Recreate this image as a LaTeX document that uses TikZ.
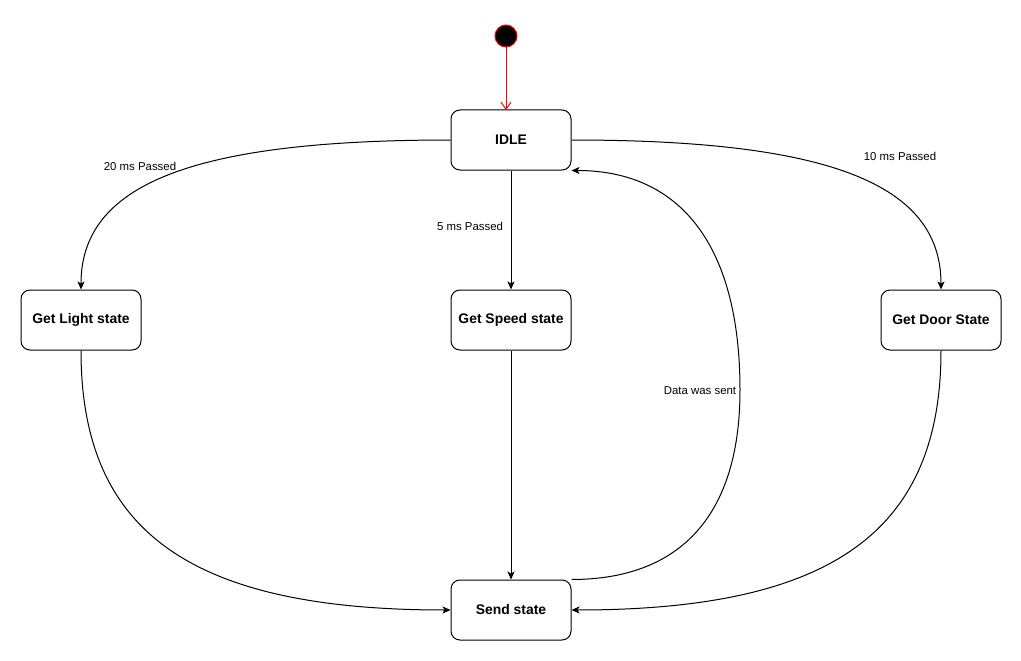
\documentclass[tikz,border=0pt]{standalone}
\usepackage{fontspec}
\setmainfont{Liberation Sans}
\usetikzlibrary{arrows.meta}
\begin{document}
\begin{tikzpicture}[x=1pt,y=-1pt,
  statebox/.style={draw=black,line width=1pt,fill=white,rounded corners=9pt,
    minimum width=120pt,minimum height=60pt,inner sep=0pt,
    font=\fontsize{13.9}{16}\selectfont\bfseries},
  initstate/.style={circle,draw=red,fill=black,line width=1pt,
    minimum size=22pt,inner sep=0pt},
  edgelabel/.style={inner sep=0pt,font=\fontsize{11.4}{13}\selectfont},
  flow/.style={draw=black,line width=1pt,-{Stealth[length=8pt,width=7pt,inset=2pt]}},
  initflow/.style={draw=red,line width=1pt,-{Straight Barb[length=7pt,width=10pt]}}]
  \useasboundingbox (0,0) rectangle (1021,661);

  % states
  \node[initstate] (init) at (506,36) {};
  \node[statebox] (idle)  at (511,140) {IDLE};
  \node[statebox] (light) at (81,320)  {Get Light state};
  \node[statebox] (speed) at (511,320) {Get Speed state};
  \node[statebox] (door)  at (941,320) {Get Door State};
  \node[statebox] (send)  at (511,610) {Send state};

  % transition labels
  \node[edgelabel] (l20)   at (140,166) {20 ms Passed};
  \node[edgelabel] (l10)   at (900,156) {10 ms Passed};
  \node[edgelabel] (l5)    at (470,226) {5 ms Passed};
  \node[edgelabel] (lsent) at (700,391) {Data was sent};

  % helper points
  \coordinate (initarr) at (506,110);
  \coordinate (turn) at (740,390);

  % transitions
  \draw[initflow] (init.south) -- (initarr);
  \draw[flow] (idle.west) .. controls +(-259,0) and +(0,-105) .. (light.north);
  \draw[flow] (idle.east) .. controls +(259,0) and +(0,-105) .. (door.north);
  \draw[flow] (idle.south) -- (speed.north);
  \draw[flow] (speed.south) -- (send.north);
  \draw[flow] (light.south) .. controls +(0,182) and +(-259,0) .. (send.west);
  \draw[flow] (door.south) .. controls +(0,182) and +(259,0) .. (send.east);
  \draw[flow] (send.north east) .. controls +(110,0) and +(0,124) .. (turn)
     .. controls +(0,-143) and +(110,0) .. (idle.south east);
\end{tikzpicture}
\end{document}
